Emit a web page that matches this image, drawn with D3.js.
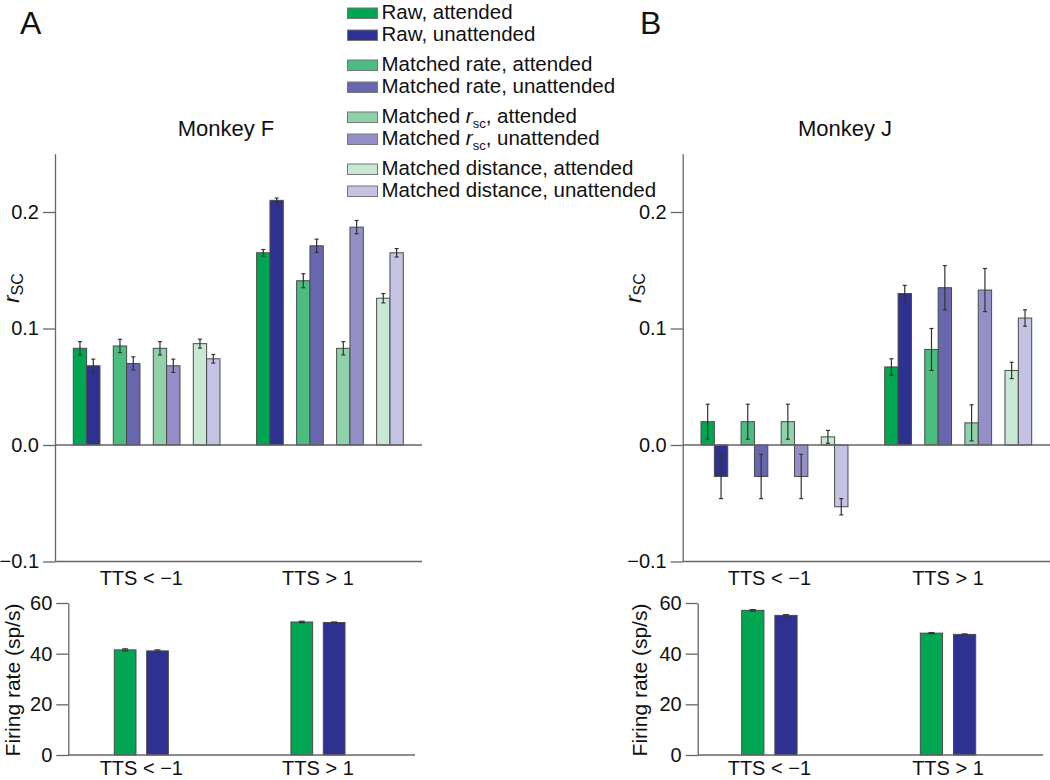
<!DOCTYPE html>
<html>
<head>
<meta charset="utf-8">
<script src="https://cdn.jsdelivr.net/npm/d3@7"></script>
<style>
  html, body { margin: 0; padding: 0; background: #fff; }
  svg { display: block; font-family: "Liberation Sans", Arial, Helvetica, sans-serif; }
</style>
</head>
<body>
<svg id="chart" width="1050" height="780"></svg>
<script>
// ---------------- DATA ----------------
const categories = ["TTS < \u22121", "TTS > 1"];
const seriesKeys = ["rawAtt", "rawUnatt", "rateAtt", "rateUnatt", "rscAtt", "rscUnatt", "distAtt", "distUnatt"];
const conditionKeys = ["raw", "rate", "rsc", "dist"];
const attentionKeys = ["att", "unatt"];
const seriesColors = ["#00a651", "#2e3192", "#4cbd80", "#6966b0", "#8fd1a8", "#948fc7", "#c9e8d4", "#c5c3e3"];

// Monkey F spike-count correlations (per category)
const fRawAtt = [0.083, 0.165],   fRawAttErr = [0.0057, 0.0028];
const fRawUnatt = [0.068, 0.210], fRawUnattErr = [0.0057, 0.0020];
const fRateAtt = [0.085, 0.141],  fRateAttErr = [0.0057, 0.0060];
const fRateUnatt = [0.070, 0.171], fRateUnattErr = [0.0057, 0.0057];
const fRscAtt = [0.083, 0.083],   fRscAttErr = [0.0057, 0.0057];
const fRscUnatt = [0.068, 0.187], fRscUnattErr = [0.0057, 0.0057];
const fDistAtt = [0.087, 0.126],  fDistAttErr = [0.0038, 0.0040];
const fDistUnatt = [0.074, 0.165], fDistUnattErr = [0.0037, 0.0036];

// Monkey J spike-count correlations
const jRawAtt = [0.020, 0.067],   jRawAttErr = [0.015, 0.007];
const jRawUnatt = [-0.027, 0.130], jRawUnattErr = [0.019, 0.007];
const jRateAtt = [0.020, 0.082],  jRateAttErr = [0.015, 0.018];
const jRateUnatt = [-0.027, 0.135], jRateUnattErr = [0.019, 0.019];
const jRscAtt = [0.020, 0.019],   jRscAttErr = [0.015, 0.0155];
const jRscUnatt = [-0.027, 0.133], jRscUnattErr = [0.019, 0.0185];
const jDistAtt = [0.007, 0.064],  jDistAttErr = [0.0055, 0.007];
const jDistUnatt = [-0.053, 0.109], jDistUnattErr = [0.007, 0.007];

// Firing rates (sp/s)
const fRateAttended = [41.5, 52.5],   fRateAttendedErr = [0.4, 0.3];
const fRateUnattended = [41.1, 52.3], fRateUnattendedErr = [0.4, 0.2];
const jRateAttended = [57.1, 48.1],   jRateAttendedErr = [0.3, 0.2];
const jRateUnattended = [55.1, 47.6], jRateUnattendedErr = [0.3, 0.2];

const rscTicks = [-0.1, 0.0, 0.1, 0.2];
const rateTicks = [0, 20, 40, 60];

// ---------------- BUILD ----------------
const svg = d3.select("#chart");
const FONT = 20;
const axisColor = "#666";
const barStroke = "#4a4a4a";
const errColor = "#333";

function rows(vals, errs) {
  const out = [];
  categories.forEach((c, ci) => {
    seriesKeys.forEach((k, si) => {
      out.push({cat: c, key: k, cond: conditionKeys[Math.floor(si / 2)], att: attentionKeys[si % 2],
                color: seriesColors[si], v: vals[si][ci], e: errs[si][ci]});
    });
  });
  return out;
}

const fRsc = rows([fRawAtt, fRawUnatt, fRateAtt, fRateUnatt, fRscAtt, fRscUnatt, fDistAtt, fDistUnatt],
                  [fRawAttErr, fRawUnattErr, fRateAttErr, fRateUnattErr, fRscAttErr, fRscUnattErr, fDistAttErr, fDistUnattErr]);
const jRsc = rows([jRawAtt, jRawUnatt, jRateAtt, jRateUnatt, jRscAtt, jRscUnatt, jDistAtt, jDistUnatt],
                  [jRawAttErr, jRawUnattErr, jRateAttErr, jRateUnattErr, jRscAttErr, jRscUnattErr, jDistAttErr, jDistUnattErr]);

function rateRows(att, unatt, attE, unattE) {
  const out = [];
  categories.forEach((c, ci) => {
    out.push({cat: c, att: "att", color: seriesColors[0], v: att[ci], e: attE[ci]});
    out.push({cat: c, att: "unatt", color: seriesColors[1], v: unatt[ci], e: unattE[ci]});
  });
  return out;
}
const fFR = rateRows(fRateAttended, fRateUnattended, fRateAttendedErr, fRateUnattendedErr);
const jFR = rateRows(jRateAttended, jRateUnattended, jRateAttendedErr, jRateUnattendedErr);

function errBars(g, data, xf, y, capHalf) {
  const eg = g.append("g").attr("stroke", errColor).attr("stroke-width", 1.2).attr("fill", "none");
  data.forEach(d => {
    const cx = xf(d);
    eg.append("line").attr("x1", cx).attr("x2", cx).attr("y1", y(d.v - d.e)).attr("y2", y(d.v + d.e));
    eg.append("line").attr("x1", cx - capHalf).attr("x2", cx + capHalf).attr("y1", y(d.v - d.e)).attr("y2", y(d.v - d.e));
    eg.append("line").attr("x1", cx - capHalf).attr("x2", cx + capHalf).attr("y1", y(d.v + d.e)).attr("y2", y(d.v + d.e));
  });
}

function styleAxis(g) {
  g.selectAll("path").attr("stroke", axisColor).attr("stroke-width", 1.3);
  g.selectAll("line").attr("stroke", axisColor).attr("stroke-width", 1.3);
  g.selectAll("text").attr("fill", "#111").attr("font-size", FONT)
    .attr("font-family", "'Liberation Sans', Arial, Helvetica, sans-serif");
}

function drawPanel(p) {
  // ---- top rsc chart ----
  const y = d3.scaleLinear().domain([-0.1, 0.25]).range([561.5, 153.75]);
  const xg = d3.scaleBand().domain(categories).range(p.topRange).paddingInner(0.2).paddingOuter(0);
  const xc = d3.scaleBand().domain(conditionKeys).range([0, xg.bandwidth()]).paddingInner(1 / 3).paddingOuter(0);
  const xa = d3.scaleBand().domain(attentionKeys).range([0, xc.bandwidth()]).padding(0);
  const g = svg.append("g");

  const bx = d => xg(d.cat) + xc(d.cond) + xa(d.att);
  g.selectAll("rect.bar").data(p.rsc).join("rect").attr("class", "bar")
    .attr("x", bx).attr("width", xa.bandwidth())
    .attr("y", d => y(Math.max(0, d.v))).attr("height", d => Math.abs(y(d.v) - y(0)))
    .attr("fill", d => d.color).attr("stroke", barStroke).attr("stroke-width", 1);
  errBars(g, p.rsc, d => bx(d) + xa.bandwidth() / 2, y, 2);

  // zero line
  g.append("line").attr("x1", p.axisX).attr("x2", p.topXEnd).attr("y1", y(0)).attr("y2", y(0))
    .attr("stroke", axisColor).attr("stroke-width", 1.3);
  // bottom line at -0.1
  g.append("line").attr("x1", p.axisX).attr("x2", p.topXEnd).attr("y1", y(-0.1)).attr("y2", y(-0.1))
    .attr("stroke", axisColor).attr("stroke-width", 1.3);

  const ya = g.append("g").attr("transform", `translate(${p.axisX},0)`)
    .call(d3.axisLeft(y).tickValues(rscTicks).tickSize(12).tickPadding(4).tickSizeOuter(0)
      .tickFormat(d => d < 0 ? "\u2212" + Math.abs(d).toFixed(1) : d.toFixed(1)));
  styleAxis(ya);

  // rsc label
  const rl = g.append("text").attr("transform", `translate(${p.rscLabelX},${288}) rotate(-90)`)
    .attr("text-anchor", "middle").attr("fill", "#111");
  rl.append("tspan").text("r").attr("font-style", "italic").attr("font-size", 22);
  rl.append("tspan").text("SC").attr("font-size", 16).attr("dy", 4);

  // category labels under top chart
  const xb = d3.scaleBand().domain(categories).range(p.botRange).paddingInner(p.botPad).paddingOuter(0);
  g.selectAll("text.cat").data(categories).join("text").attr("class", "cat")
    .attr("x", d => xb(d) + xb.bandwidth() / 2).attr("y", 585)
    .attr("text-anchor", "middle").attr("font-size", FONT).attr("fill", "#111").text(d => d);

  // title
  g.append("text").attr("x", p.titleX).attr("y", 136).attr("text-anchor", "middle")
    .attr("font-size", 22).attr("fill", "#111").text(p.title);
  g.append("text").attr("x", p.letterX).attr("y", 34).attr("font-size", 32).attr("fill", "#111").text(p.letter);

  // ---- bottom firing-rate chart ----
  const y2 = d3.scaleLinear().domain([0, 60]).range([755, 603]);
  const xa2 = d3.scaleBand().domain(attentionKeys).range([0, xb.bandwidth()]).paddingInner(0.33).paddingOuter(0);
  const bx2 = d => xb(d.cat) + xa2(d.att);
  g.selectAll("rect.fr").data(p.fr).join("rect").attr("class", "fr")
    .attr("x", bx2).attr("width", xa2.bandwidth())
    .attr("y", d => y2(d.v)).attr("height", d => y2(0) - y2(d.v))
    .attr("fill", d => d.color).attr("stroke", barStroke).attr("stroke-width", 1);
  errBars(g, p.fr, d => bx2(d) + xa2.bandwidth() / 2, y2, 3);

  g.append("line").attr("x1", p.botAxisX).attr("x2", p.botXEnd).attr("y1", y2(0)).attr("y2", y2(0))
    .attr("stroke", axisColor).attr("stroke-width", 1.3);
  const ya2 = g.append("g").attr("transform", `translate(${p.botAxisX},0)`)
    .call(d3.axisLeft(y2).tickValues(rateTicks).tickSize(12).tickPadding(4).tickSizeOuter(0));
  styleAxis(ya2);

  g.append("text").attr("transform", `translate(${p.frLabelX},${680}) rotate(-90)`)
    .attr("text-anchor", "middle").attr("font-size", 21).attr("fill", "#111").text("Firing rate (sp/s)");

  g.selectAll("text.cat2").data(categories).join("text").attr("class", "cat2")
    .attr("x", d => xb(d) + xb.bandwidth() / 2).attr("y", 775)
    .attr("text-anchor", "middle").attr("font-size", FONT).attr("fill", "#111").text(d => d);
}

drawPanel({
  rsc: fRsc, fr: fFR, title: "Monkey F", letter: "A",
  topRange: [73.3, 403.3], axisX: 55, topXEnd: 422,
  botRange: [114.3, 345], botPad: 0.694, botAxisX: 68.3, botXEnd: 415,
  rscLabelX: 19, frLabelX: 20, titleX: 226, letterX: 20
});
drawPanel({
  rsc: jRsc, fr: jFR, title: "Monkey J", letter: "B",
  topRange: [701, 1031.7], axisX: 682.7, topXEnd: 1050,
  botRange: [741.7, 975.7], botPad: 0.69, botAxisX: 697.7, botXEnd: 1043,
  rscLabelX: 641, frLabelX: 647, titleX: 845, letterX: 640
});

// ---------------- LEGEND ----------------
const legendLabels = [
  ["Raw, attended"], ["Raw, unattended"],
  ["Matched rate, attended"], ["Matched rate, unattended"],
  ["Matched ", "r", "sc", ", attended"], ["Matched ", "r", "sc", ", unattended"],
  ["Matched distance, attended"], ["Matched distance, unattended"]
];
const lg = svg.append("g");
legendLabels.forEach((parts, i) => {
  const grp = Math.floor(i / 2), sub = i % 2;
  const top = 8 + grp * 52 + sub * 22;
  lg.append("rect").attr("x", 347.5).attr("y", top).attr("width", 30).attr("height", 10.5)
    .attr("fill", seriesColors[i]).attr("stroke", "#777").attr("stroke-width", 1);
  const t = lg.append("text").attr("x", 381.5).attr("y", top + 11).attr("font-size", 20.5).attr("fill", "#111");
  if (parts.length === 1) {
    t.text(parts[0]);
  } else {
    t.append("tspan").text(parts[0]);
    t.append("tspan").text(parts[1]).attr("font-style", "italic");
    t.append("tspan").text(parts[2]).attr("font-size", 13).attr("dy", 5);
    t.append("tspan").text(parts[3]).attr("dy", -5);
  }
});
</script>
</body>
</html>
